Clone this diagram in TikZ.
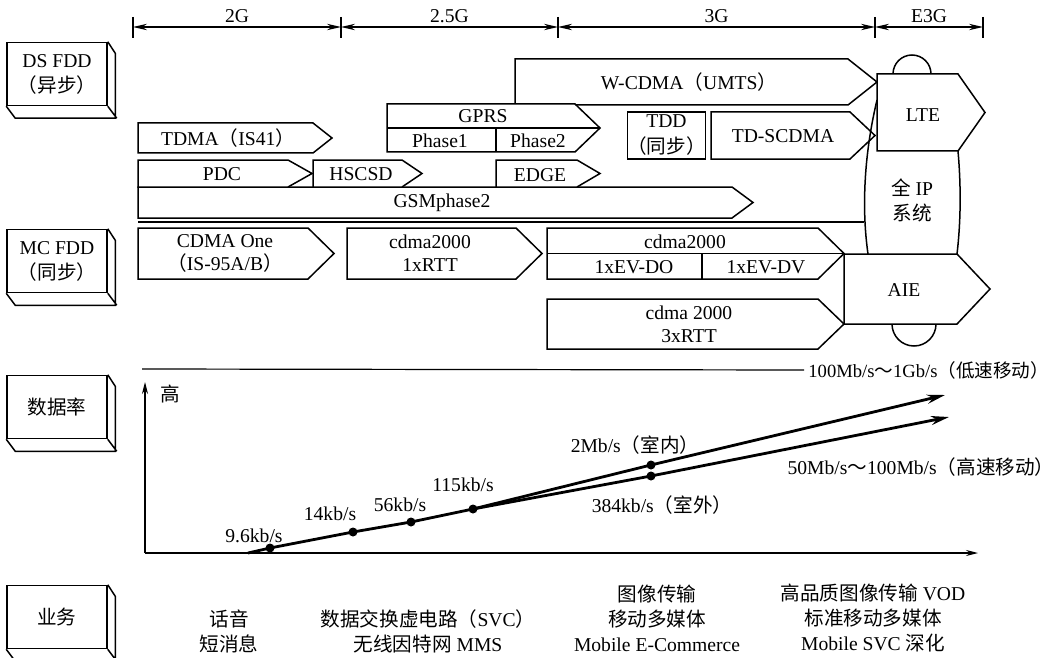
\documentclass[tikz,border=0pt]{standalone}
\usepackage{fontspec}
\setmainfont{Liberation Serif}
\newfontfamily\cjk{Noto Sans CJK SC}
\newcommand\zh[1]{{\cjk #1}}
\usetikzlibrary{arrows.meta,positioning,calc}

\begin{document}
\begin{tikzpicture}[
  x=0.5pt, y=-0.5pt,
  every node/.style={font=\fontsize{9.8}{12.5}\selectfont},
  lbl/.style={align=center, inner sep=0pt},
  tight/.style={lbl, font=\fontsize{9.8}{11.5}\selectfont},
  sidebox/.style={draw, line width=0.75pt, minimum width=50pt, minimum height=31.5pt,
                  align=center, inner sep=0pt},
  bar/.style={draw, line width=0.75pt, fill=white},
  dimline/.style={<->, >={Stealth[length=7pt,width=3.2pt]}, line width=0.6pt},
  axis/.style={->, >={Stealth[length=6pt,width=3pt]}, line width=0.6pt},
  rateline/.style={line width=1.4pt},
  ratearrow/.style={rateline, -{Stealth[length=9pt,width=4.5pt]}},
  dot/.style={circle, fill, inner sep=0pt, minimum size=4.5pt},
]
  \useasboundingbox (0,0) rectangle (1060,658);

  % Generation scale
  \foreach \x/\n in {133/t0,341/t1,558/t2,875/t3,983/t4} {
    \coordinate (\n) at (\x,27);
    \draw[line width=0.6pt] (\x,17) -- (\x,38);
  }
  \draw[dimline] (t0) -- node[above=2pt, lbl] (g2)  {2G}   (t1);
  \draw[dimline] (t1) -- node[above=2pt, lbl] (g25) {2.5G} (t2);
  \draw[dimline] (t2) -- node[above=2pt, lbl] (g3)  {3G}   (t3);
  \draw[dimline] (t3) -- node[above=2pt, lbl] (e3g) {E3G}  (t4);

  % Row headers
  \node[sidebox] (ds)   at (57,74)  {DS FDD\\\zh{（异步）}};
  \node[sidebox] (mc)   at (57,261) {MC FDD\\\zh{（同步）}};
  \node[sidebox] (rate) at (57,407) {\zh{数据率}};
  \node[sidebox] (svc)  at (57,617) {\zh{业务}};
  \foreach \b in {ds,mc,rate,svc}
    \draw[line width=0.75pt] (\b.south west) -- ++(9,12) -- ++(100,0) -- ++(0,-65) -- (\b.north east)
      (\b.south east) -- ++(9,12);

  % DS FDD systems
  \draw[bar] (515,105) -- (515,59) -- (848,59) -- (877,82) -- (848,105) -- cycle;
  \node[lbl] (wcdma) at (689,82) {W-CDMA\zh{（}UMTS\zh{）}};

  \draw[bar] (387,104) -- (575,104) -- (600,128) -- (575,152) -- (387,152) -- cycle;
  \draw[line width=0.75pt] (387,128) -- (600,128) (496,128) -- (496,152);
  \node[lbl] (gprs)   at (483,116) {GPRS};
  \node[lbl] (phase1) at (440,141) {Phase1};
  \node[lbl] (phase2) at (538,141) {Phase2};

  \node[draw, line width=0.75pt, minimum width=38.5pt, minimum height=23.5pt, align=center,
        inner sep=0pt, font=\fontsize{9.8}{13}\selectfont] (tdd) at (666.5,135.5) {TDD\\\zh{（同步）}};
  \draw[bar] (711,112) -- (850,112) -- (875,135.5) -- (850,159) -- (711,159) -- cycle;
  \node[lbl] (tdscdma) at (783,136) {TD-SCDMA};

  \draw[bar] (138,123) -- (313,123) -- (332,138) -- (313,153) -- (138,153) -- cycle;
  \node[lbl] (tdma) at (228,138) {TDMA\zh{（}IS41\zh{）}};

  \draw[bar] (138,187) -- (732,187) -- (753,202.5) -- (732,218) -- (138,218) -- cycle;
  \node[lbl] (gsm) at (442,203) {GSMphase2};
  \draw[bar] (138,160) -- (288,160) -- (312,173.5) -- (288,187) -- (138,187) -- cycle;
  \node[lbl] (pdc) at (222,174) {PDC};
  \draw[bar] (313,160) -- (402,160) -- (422,173.5) -- (402,187) -- (313,187) -- cycle;
  \node[lbl] (hscsd) at (361,174) {HSCSD};
  \draw[bar] (496,160) -- (577,160) -- (600,173.5) -- (577,187) -- (496,187) -- cycle;
  \node[lbl] (edge) at (540,175) {EDGE};

  \draw[line width=0.75pt] (138,222) -- (864,222);

  % MC FDD systems
  \draw[bar] (138,228) -- (308,228) -- (334,253.5) -- (308,279) -- (138,279) -- cycle;
  \node[tight] (cdmaone) at (225,253.5) {CDMA One\\\zh{（}IS-95A/B\zh{）}};
  \draw[bar] (347,228) -- (516,228) -- (542,253.5) -- (516,279) -- (347,279) -- cycle;
  \node[tight] (rtt1) at (430,253.5) {cdma2000\\1xRTT};
  \draw[bar] (547,228) -- (818,228) -- (844,253.5) -- (818,279) -- (547,279) -- cycle;
  \draw[line width=0.75pt] (547,253.5) -- (844,253.5) (702,253.5) -- (702,279);
  \node[lbl] (evtop) at (685,242) {cdma2000};
  \node[lbl] (evdo)  at (634,267) {1xEV-DO};
  \node[lbl] (evdv)  at (766,267) {1xEV-DV};
  \draw[bar] (547,299) -- (818,299) -- (844,324) -- (818,349) -- (547,349) -- cycle;
  \node[tight] (rtt3) at (689,324.5) {cdma 2000\\3xRTT};

  % E3G
  \draw[line width=0.75pt] (877,100) .. controls (865,150) and (861,205) .. (868,254);
  \draw[line width=0.75pt] (958,151) .. controls (961,185) and (961,220) .. (957,254);
  \node[lbl] (allip) at (912,200) {\zh{全} IP\\\zh{系统}};
  \draw[line width=0.75pt] (912,74) circle[radius=19];
  \draw[bar] (877,74) -- (958,74) -- (985,112.5) -- (958,151) -- (877,151) -- cycle;
  \node[lbl] (lte) at (923,115) {LTE};
  \draw[line width=0.75pt] (914,324) circle[radius=22];
  \draw[bar] (844,254) -- (957,254) -- (990,289) -- (957,324) -- (844,324) -- cycle;
  \node[lbl] (aie) at (904,290) {AIE};

  % Data rate chart
  \coordinate (o) at (145,553);
  \coordinate (xend) at (978,553);
  \coordinate (yend) at (145,382);
  \draw[axis] (o) -- (xend);
  \draw[axis] (o) -- (yend);
  \node[lbl, anchor=west] (high) at (160,394) {\zh{高}};
  \coordinate (topl) at (142,369);
  \node[anchor=west, inner sep=2pt, font=\fontsize{9.3}{12}\selectfont] (lowmob) at (804,370)
    {100Mb/s\zh{～}1Gb/s\zh{（低速移动）}};
  \draw[line width=0.6pt] (topl) -- (lowmob.west);

  \coordinate (r0) at (248,553);
  \node[dot] (r1) at (270,548) {};
  \node[dot] (r2) at (353,532) {};
  \node[dot] (r3) at (411,522) {};
  \node[dot] (r4) at (473,509) {};
  \node[dot] (r5) at (651,465) {};
  \node[dot] (r6) at (651,476) {};
  \coordinate (hi) at (945,395);
  \coordinate (lo) at (949,417);
  \draw[rateline] (r0) -- (r1.center) -- (r2.center) -- (r3.center) -- (r4.center);
  \draw[ratearrow] (r4.center) -- (r5.center) -- (hi);
  \draw[ratearrow] (r4.center) -- (r6.center) -- (lo);

  \node[lbl] (k96)  at (254,536) {9.6kb/s};
  \node[lbl] (k14)  at (330,514) {14kb/s};
  \node[lbl] (k56)  at (400,505) {56kb/s};
  \node[lbl] (k115) at (463,485) {115kb/s};
  \node[lbl] (m2)   at (635,445) {2Mb/s\zh{（室内）}};
  \node[lbl] (k384) at (662,505) {384kb/s\zh{（室外）}};
  \node[lbl] (himob) at (921,467) {50Mb/s\zh{～}100Mb/s\zh{（高速移动）}};

  % Services
  \node[lbl] (voice) at (229,631) {\zh{话音}\\\zh{短消息}};
  \node[lbl] (datasvc) at (428,631) {\zh{数据交换虚电路（}SVC\zh{）}\\\zh{无线因特网} MMS};
  \node[lbl] (media) at (657,618) {\zh{图像传输}\\\zh{移动多媒体}\\Mobile E-Commerce};
  \node[lbl] (vod) at (873,618) {\zh{高品质图像传输} VOD\\\zh{标准移动多媒体}\\Mobile SVC \zh{深化}};
\end{tikzpicture}
\end{document}
